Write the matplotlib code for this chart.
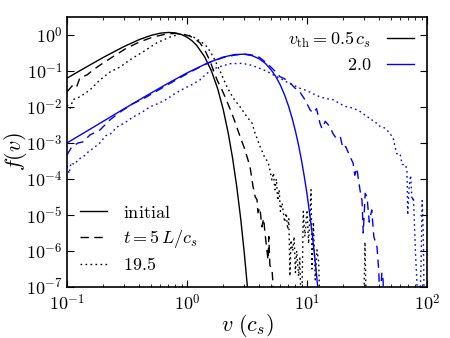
import numpy as np
import matplotlib
matplotlib.use("Agg")
import matplotlib.pyplot as plt
from matplotlib.ticker import FuncFormatter

plt.rcParams["mathtext.fontset"] = "cm"
plt.rcParams["font.family"] = "serif"
plt.rcParams["font.serif"] = ["DejaVu Serif"]

# v_th = 0.5 c_s (black)
v_init_05 = [0.1, 0.125, 0.15, 0.2, 0.25, 0.3, 0.4, 0.5, 0.6, 0.7, 0.8, 0.9, 1.0, 1.1, 1.2,
             1.4, 1.6, 1.8, 2.0, 2.2, 2.4, 2.6, 2.8, 3.0, 3.2, 3.4]
f_init_05 = [0.063, 0.097, 0.137, 0.236, 0.35, 0.48, 0.742, 0.968, 1.12, 1.17, 1.135, 1.02,
             0.864, 0.687, 0.517, 0.248, 0.098, 0.032, 8.6e-3, 1.93e-3, 3.65e-4, 5.8e-5,
             7.8e-6, 8.7e-7, 8.3e-8, 6.7e-9]

v_t5_05 = [0.1, 0.112, 0.12, 0.128, 0.147, 0.165, 0.2, 0.24, 0.316, 0.406, 0.52, 0.68, 0.8,
           0.93, 1.05, 1.15, 1.28, 1.42, 1.55, 1.78, 2.0, 2.3, 2.5, 2.77, 3.04, 3.35, 3.55,
           3.7, 3.83, 3.9, 4.05, 4.2, 4.35, 4.46, 4.6, 4.73, 4.8, 4.9, 5.1, 5.2, 5.3]
logf_t5_05 = [-1.58, -1.39, -1.45, -1.19, -1.11, -0.97, -0.78, -0.61, -0.36, -0.19, -0.06,
              0.03, 0.04, 0.02, -0.03, -0.1, -0.22, -0.45, -0.72, -1.25, -1.6, -2.08, -2.4,
              -2.83, -3.19, -3.67, -4.22, -4.5, -4.58, -4.94, -4.8, -5.33, -5.1, -5.5, -5.9,
              -6.25, -5.6, -6.4, -6.5, -6.9, -8.0]

v_t19_05 = [0.1, 0.106, 0.112, 0.128, 0.155, 0.188, 0.228, 0.277, 0.335, 0.43, 0.56, 0.72,
            0.87, 1.02, 1.12, 1.3, 1.47, 1.65, 1.88, 2.15, 2.42, 2.77, 3.16, 3.48, 3.68, 4.06,
            4.46, 4.73, 4.9, 5.1, 5.25, 5.4, 5.55, 5.7, 5.85, 6.0, 6.2, 6.5, 6.7, 6.9, 7.05,
            7.2, 7.35, 7.6, 7.8, 8.0, 8.2, 8.5, 8.7, 9.0, 9.3, 9.6, 10.0, 10.3, 10.8, 11.0,
            11.3, 11.7, 12.1, 12.5, 12.9, 29.5, 30.4, 31.3]
logf_t19_05 = [-1.94, -2.05, -1.8, -1.72, -1.53, -1.25, -1.03, -0.89, -0.69, -0.47, -0.22,
               -0.06, 0.02, 0.0, -0.05, -0.18, -0.33, -0.6, -1.0, -1.44, -1.75, -2.0, -2.28,
               -2.45, -2.72, -3.1, -3.42, -3.53, -3.75, -4.03, -3.83, -4.3, -4.0, -4.6, -4.3,
               -4.9, -4.67, -5.2, -4.95, -5.4, -5.1, -6.7, -5.7, -6.0, -5.6, -6.6, -6.0, -6.7,
               -6.2, -8.0, -4.9, -5.6, -4.86, -5.8, -4.3, -6.5, -5.2, -6.8, -5.97, -6.3, -8.0,
               -8.0, -5.75, -8.0]

# v_th = 2.0 c_s (blue)
v_init_20 = [0.1, 0.15, 0.2, 0.3, 0.5, 0.7, 1.0, 1.5, 2.0, 2.5, 3.0, 3.5, 4.0, 4.5, 5.0, 5.5,
             6.0, 6.5, 7.0, 7.5, 8.0, 8.5, 9.0, 9.5, 10.0, 10.5, 11.0, 11.5, 12.0, 12.5]
f_init_20 = [1.0e-3, 2.24e-3, 3.98e-3, 8.94e-3, 0.0242, 0.046, 0.088, 0.169, 0.242, 0.285,
             0.291, 0.264, 0.216, 0.161, 0.109, 0.069, 0.040, 0.0214, 0.0107, 4.96e-3,
             2.14e-3, 8.6e-4, 3.23e-4, 1.13e-4, 3.72e-5, 1.13e-5, 3.26e-6, 8.7e-7, 2.19e-7,
             5.1e-8]

v_t5_20 = [0.1, 0.11, 0.124, 0.136, 0.155, 0.188, 0.228, 0.277, 0.35, 0.45, 0.6, 0.8, 1.0,
           1.3, 1.6, 2.0, 2.5, 3.0, 3.5, 4.0, 4.6, 5.2, 5.95, 6.5, 7.2, 7.9, 8.7, 9.6, 10.6,
           11.2, 12.0, 12.8, 13.3, 14.2, 15.5, 16.5, 17.8, 19.0, 19.9, 21.0, 22.8, 24.2,
           25.0, 26.0, 27.6, 28.7, 29.4, 30.5, 31.6, 33.0, 34.6, 36.0, 38.3, 39.5, 40.6,
           42.0, 43.0, 44.0]
logf_t5_20 = [-3.33, -3.1, -3.0, -2.97, -2.78, -2.64, -2.36, -2.14, -1.92, -1.74, -1.5,
              -1.26, -1.08, -0.88, -0.74, -0.63, -0.56, -0.53, -0.56, -0.62, -0.78, -0.95,
              -1.16, -1.22, -1.33, -1.47, -1.58, -1.8, -2.08, -2.17, -2.05, -2.45, -2.6,
              -2.4, -2.55, -2.75, -2.9, -2.85, -3.15, -3.1, -3.38, -3.56, -3.9, -3.7, -4.3,
              -4.6, -5.5, -4.4, -4.5, -5.2, -4.86, -5.6, -5.9, -6.5, -7.5, -6.6, -6.8, -8.0]

v_t19_20 = [0.1, 0.104, 0.108, 0.115, 0.125, 0.136, 0.15, 0.165, 0.188, 0.21, 0.23, 0.26,
            0.3, 0.355, 0.42, 0.49, 0.58, 0.68, 0.8, 0.93, 1.1, 1.28, 1.45, 1.65, 1.88, 2.28,
            2.9, 3.4, 3.83, 4.4, 4.93, 5.5, 5.95, 6.7, 7.6, 8.7, 10.0, 11.3, 12.8, 14.5,
            16.5, 19.0, 21.5, 24.0, 26.0, 28.5, 31.6, 33.5, 36.0, 38.3, 41.0, 44.0, 46.4,
            49.0, 52.0, 54.0, 56.0, 59.6, 62.0, 66.0, 68.0, 69.0, 71.0, 73.0, 75.0, 77.0,
            80.0, 84.0, 86.0, 89.0, 91.0, 93.0, 95.0]
logf_t19_20 = [-3.65, -3.85, -3.55, -3.6, -3.45, -3.39, -3.25, -3.15, -3.0, -2.8, -2.75,
               -2.56, -2.45, -2.28, -2.15, -2.0, -1.9, -1.78, -1.62, -1.5, -1.38, -1.25,
               -1.08, -0.95, -0.88, -0.8, -0.79, -0.84, -0.9, -0.98, -1.06, -1.15, -1.2,
               -1.3, -1.39, -1.48, -1.55, -1.64, -1.72, -1.77, -1.8, -1.92, -2.0, -2.03,
               -2.08, -2.15, -2.28, -2.3, -2.42, -2.45, -2.56, -2.58, -2.64, -2.75, -2.83,
               -3.1, -3.3, -3.3, -3.6, -3.6, -3.75, -5.0, -4.2, -3.9, -4.6, -4.5, -6.0,
               -7.5, -8.0, -6.5, -4.6, -5.5, -8.0]

vth_labels = [r"$v_{\rm th}=0.5\,c_s$", r"$2.0$"]
time_labels = [r"$\mathrm{initial}$", r"$t=5\,L/c_s$", r"$19.5$"]
colors = ["black", "blue"]

DASH = (0, (6, 4))
DOT = (0, (1.2, 2.4))

fig = plt.figure(figsize=(4.5, 3.38), dpi=100)
ax = fig.add_axes([0.149, 0.151, 0.8, 0.799])

lw = 1.0
ax.plot(v_init_05, f_init_05, color=colors[0], lw=lw, ls="-")
ax.plot(v_t5_05, 10.0 ** np.array(logf_t5_05), color=colors[0], lw=lw, ls=DASH)
ax.plot(v_t19_05, 10.0 ** np.array(logf_t19_05), color=colors[0], lw=lw, ls=DOT)
ax.plot(v_init_20, f_init_20, color=colors[1], lw=lw, ls="-")
ax.plot(v_t5_20, 10.0 ** np.array(logf_t5_20), color=colors[1], lw=lw, ls=DASH)
ax.plot(v_t19_20, 10.0 ** np.array(logf_t19_20), color=colors[1], lw=lw, ls=DOT)

ax.set_xscale("log")
ax.set_yscale("log")
ax.set_xlim(0.1, 100)
ax.set_ylim(1e-7, 10 ** 0.5)
ax.set_yticks([10.0 ** k for k in range(-7, 1)])
pow_fmt = FuncFormatter(lambda x, pos: r"$10^{%d}$" % int(round(np.log10(x))))
ax.xaxis.set_major_formatter(pow_fmt)
ax.yaxis.set_major_formatter(pow_fmt)
ax.set_xlabel(r"$v\ (c_s)$", fontsize=16, labelpad=-2)
ax.set_ylabel(r"$f(v)$", fontsize=16, labelpad=-2)

ax.tick_params(which="both", direction="in", top=True, right=True, labelsize=13)
ax.tick_params(which="major", length=5, width=0.8)
ax.tick_params(axis="x", which="major", pad=5)
ax.tick_params(axis="y", which="major", pad=3)
ax.tick_params(which="minor", length=2.5, width=0.6)
for s in ax.spines.values():
    s.set_linewidth(1.2)

# colour legend (upper right)
col_handles = [plt.Line2D([], [], color=c, lw=lw) for c in colors]
leg1 = ax.legend(col_handles, vth_labels, loc="upper right", frameon=False,
                 markerfirst=False, fontsize=13, handlelength=1.5,
                 labelspacing=0.35, borderaxespad=0.3, handletextpad=0.9)
ax.add_artist(leg1)

# linestyle legend (lower left)
ls_handles = [plt.Line2D([], [], color="black", lw=lw, ls=s) for s in ["-", DASH, DOT]]
ax.legend(ls_handles, time_labels, loc="lower left", frameon=False, fontsize=13,
          handlelength=1.5, labelspacing=0.35, borderaxespad=0.3, handletextpad=0.9)

fig.savefig("out.png", dpi=100)
